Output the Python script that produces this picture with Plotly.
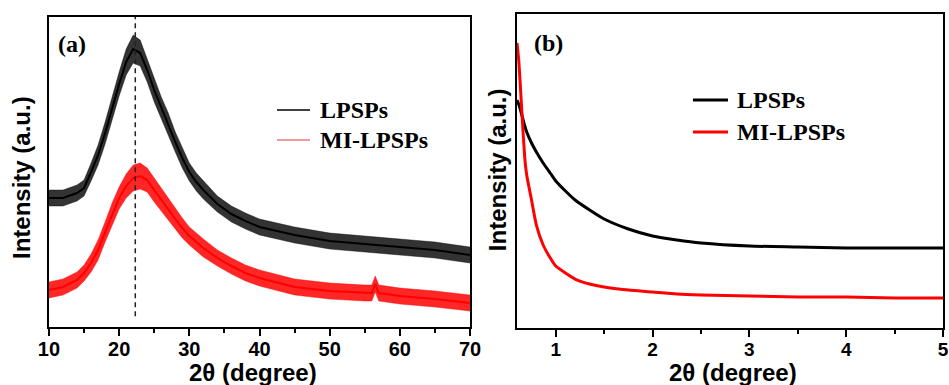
import plotly.graph_objects as go

# ---------------- data ----------------
# Panel (a): XRD, intensity in arbitrary units
xrd_x_lpsps = [10, 12, 14, 15, 16, 17, 18, 19, 20, 21, 22, 23, 24, 25, 26, 27, 28, 29, 30, 31,
               32, 34, 36, 38, 40, 45, 50, 55, 60, 65, 70]
xrd_y_lpsps = [129, 129, 134, 139, 155, 172, 194, 219, 243, 265, 278, 274, 257, 237, 219, 203,
               185, 169, 155, 145, 137, 123, 113, 106, 100, 92, 86, 83, 80, 77, 72]
xrd_noise_lpsps = [8, 8, 8, 8, 9, 10, 11, 12, 12, 13, 14, 13, 12, 12, 11, 11, 10, 10, 9, 9,
                   9, 8, 8, 8, 8, 8, 8, 8, 8, 8, 8]

xrd_x_mi = [10, 12, 14, 15, 16, 17, 18, 19, 20, 21, 22, 23, 24, 25, 26, 27, 28, 29, 30, 32,
            34, 36, 38, 40, 45, 50, 55, 56, 56.5, 57, 60, 65, 70]
xrd_y_mi = [37, 40, 47, 54, 64, 77, 95, 113, 129, 141, 149, 151, 147, 137, 127, 117, 108, 99,
            91, 79, 69, 61, 54, 49, 40, 36, 34, 34, 43, 34, 31, 28, 24]
xrd_noise_mi = [8, 8, 8, 8, 9, 10, 10, 11, 11, 12, 13, 13, 12, 12, 11, 11, 10, 10, 9, 9,
                8, 8, 8, 8, 8, 8, 8, 8, 8, 8, 8, 8, 8]

peak_position = 22.3

# Panel (b): small-angle XRD
saxs_x = [0.6, 0.62, 0.65, 0.68, 0.7, 0.75, 0.8, 0.87, 0.95, 1.0, 1.1, 1.2, 1.35, 1.5, 1.75,
          2.0, 2.25, 2.5, 3.0, 3.5, 4.0, 4.5, 5.0]
saxs_y_lpsps = [228, 223, 213, 202, 196, 185, 176, 165, 154, 147, 137, 128, 118, 109, 99,
                92, 88, 85, 82, 81, 80, 80, 80]
saxs_y_mi = [285, 265, 216, 170, 153, 128, 103, 83, 69, 62, 55, 49, 44, 41, 38,
             36, 34, 33, 32, 31, 31, 30, 30]

series_names = ["LPSPs", "MI-LPSPs"]
xticks_a = [10, 20, 30, 40, 50, 60, 70]
xticks_b = [1, 2, 3, 4, 5]

# ---------------- figure ----------------
SANS = "Liberation Sans"
SERIF = "Liberation Serif"
BLACK = "#000000"
RED = "#ff0000"

fig = go.Figure()


def add_noisy(x, y, noise, color, fill, xa, ya):
    lower = [v - n for v, n in zip(y, noise)]
    upper = [v + n for v, n in zip(y, noise)]
    fig.add_trace(go.Scatter(x=x, y=lower, mode="lines", line=dict(width=0.5, color=fill),
                             xaxis=xa, yaxis=ya, showlegend=False, hoverinfo="skip"))
    fig.add_trace(go.Scatter(x=x, y=upper, mode="lines", line=dict(width=0.5, color=fill),
                             fill="tonexty", fillcolor=fill,
                             xaxis=xa, yaxis=ya, showlegend=False, hoverinfo="skip"))
    fig.add_trace(go.Scatter(x=x, y=y, mode="lines", line=dict(width=2, color=color),
                             xaxis=xa, yaxis=ya, showlegend=False))


add_noisy(xrd_x_lpsps, xrd_y_lpsps, xrd_noise_lpsps, BLACK, "rgba(0,0,0,0.8)", "x", "y")
add_noisy(xrd_x_mi, xrd_y_mi, xrd_noise_mi, RED, "rgba(255,0,0,0.85)", "x", "y")

fig.add_trace(go.Scatter(x=saxs_x, y=saxs_y_lpsps, mode="lines",
                         line=dict(width=3, color=BLACK, shape="spline", smoothing=0.5),
                         xaxis="x2", yaxis="y2", showlegend=False))
fig.add_trace(go.Scatter(x=saxs_x, y=saxs_y_mi, mode="lines",
                         line=dict(width=3, color=RED, shape="spline", smoothing=0.5),
                         xaxis="x2", yaxis="y2", showlegend=False))

# dashed reference line at the peak
fig.add_shape(type="line", xref="x", yref="y domain", x0=peak_position, x1=peak_position,
              y0=0.035, y1=1, line=dict(color="#222222", width=1.5, dash="5px,4px"))

axis_common = dict(showgrid=False, zeroline=False, showline=True, mirror=True,
                   linecolor=BLACK, linewidth=2, automargin=False)

fig.update_layout(
    width=949, height=385, autosize=False, showlegend=False,
    margin=dict(l=0, r=0, t=0, b=0, pad=0, autoexpand=False),
    paper_bgcolor="white", plot_bgcolor="white",
    xaxis=dict(domain=[0.0516, 0.4953], range=[10, 70], tickvals=xticks_a,
               ticks="outside", ticklen=7, tickwidth=2, tickcolor=BLACK, ticklabelstandoff=-4,
               minor=dict(dtick=5, tick0=10, ticks="outside", ticklen=4, tickwidth=2, tickcolor=BLACK),
               tickfont=dict(family=SANS, size=20, color=BLACK, weight="bold"),
               anchor="y", **axis_common),
    yaxis=dict(domain=[0.1506, 0.9558], range=[0, 310], showticklabels=False, ticks="",
               anchor="x", **axis_common),
    xaxis2=dict(domain=[0.5448, 0.9937], range=[0.6, 5], tickvals=xticks_b,
                ticks="outside", ticklen=7, tickwidth=2, tickcolor=BLACK, ticklabelstandoff=-4,
                minor=dict(dtick=0.5, tick0=0.5, ticks="outside", ticklen=4, tickwidth=2, tickcolor=BLACK),
                tickfont=dict(family=SANS, size=19, color=BLACK, weight="bold"),
                anchor="y2", **axis_common),
    yaxis2=dict(domain=[0.148, 0.9636], range=[0, 314], showticklabels=False, ticks="",
                anchor="x2", **axis_common),
)

# legends (drawn as line samples + text)
legend_specs = [
    (0.2919, 0.3267, 0.7143, BLACK, 1.5, 0.3351, series_names[0]),
    (0.2919, 0.3267, 0.6364, "#e87878", 1.5, 0.3351, series_names[1]),
    (0.7302, 0.7671, 0.7403, BLACK, 3, 0.7745, series_names[0]),
    (0.7302, 0.7671, 0.6571, RED, 3, 0.7745, series_names[1]),
]
for x0, x1, yy, col, w, tx, name in legend_specs:
    fig.add_shape(type="line", xref="paper", yref="paper", x0=x0, x1=x1, y0=yy, y1=yy,
                  line=dict(color=col, width=w))
    fig.add_annotation(xref="paper", yref="paper", x=tx, y=yy, text=name, showarrow=False,
                       xanchor="left", yanchor="middle",
                       font=dict(family=SERIF, size=24, color=BLACK, weight="bold"))

# panel labels
fig.add_annotation(xref="paper", yref="paper", x=0.0759, y=0.8857, text="(a)", showarrow=False,
                   xanchor="center", yanchor="middle",
                   font=dict(family=SERIF, size=24, color=BLACK, weight="bold"))
fig.add_annotation(xref="paper", yref="paper", x=0.578, y=0.888, text="(b)", showarrow=False,
                   xanchor="center", yanchor="middle",
                   font=dict(family=SERIF, size=24, color=BLACK, weight="bold"))

# axis titles
title_font = dict(family=SANS, size=24, color=BLACK, weight="bold")
for xc in (253 / 949, 733 / 949):
    fig.add_annotation(xref="paper", yref="paper", x=xc, y=(385 - 372) / 385, text="2θ (degree)",
                       showarrow=False, xanchor="center", yanchor="middle", font=title_font)
for xc, yc in ((22 / 949, 0.5377), (497 / 949, 0.558)):
    fig.add_annotation(xref="paper", yref="paper", x=xc, y=yc, text="Intensity (a.u.)",
                       textangle=-90, showarrow=False, xanchor="center", yanchor="middle",
                       font=dict(family=SANS, size=24, color=BLACK, weight="bold"))

fig.write_html("out.html", config={"displayModeBar": False},
               post_script="document.body.style.margin='0';document.body.style.overflow='hidden';")
